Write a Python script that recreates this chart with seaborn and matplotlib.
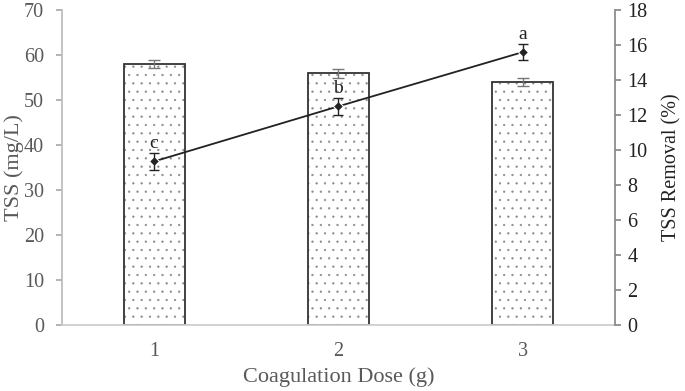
import pandas as pd
import matplotlib.pyplot as plt
import matplotlib.patches as mpatches
import seaborn as sns

# data
doses = ["1", "2", "3"]
tss = [58.1, 56.0, 54.1]
tss_err = [0.9, 1.0, 0.9]
removal = [9.35, 12.5, 15.6]
removal_err = [0.5, 0.5, 0.45]
letters = ["c", "b", "a"]

df = pd.DataFrame({"dose": doses, "tss": tss, "removal": removal})

sns.set_theme(style="white")
plt.rcParams['font.family'] = ['Liberation Serif', 'DejaVu Serif']
plt.rcParams['hatch.linewidth'] = 0.4

gray = "#595959"
fig = plt.figure(figsize=(6.85, 3.91), dpi=100)
ax = fig.add_axes([0.0905, 0.169, 0.807, 0.805])

# hatched fill (light dots), then a dark outline on top
sns.barplot(data=df, x="dose", y="tss", ax=ax, color="white", width=0.33,
            edgecolor="#8a8a8a", linewidth=0, hatch="..")
for p in list(ax.patches):
    ax.add_patch(mpatches.Rectangle(p.get_xy(), p.get_width(), p.get_height(),
                                    fill=False, edgecolor="#333333", linewidth=1.3))
ax.errorbar(range(len(doses)), tss, yerr=tss_err, fmt="none",
            ecolor="#777777", elinewidth=1, capsize=4)
ax.set_xlim(-0.5, 2.5)
ax.set_ylim(0, 70)
ax.set_yticks(range(0, 71, 10))
ax.set_xlabel("Coagulation Dose (g)", fontsize=16, color=gray)
ax.set_ylabel("TSS (mg/L)", fontsize=16, color=gray)
ax.xaxis.set_label_coords(0.5, -0.135)
ax.yaxis.set_label_coords(-0.068, 0.5)
ax.tick_params(axis="both", labelsize=14.5, colors=gray, length=4)
ax.tick_params(axis="x", length=0, pad=12)
ax.tick_params(axis="y", left=True, direction="out", color="#aaaaaa", pad=9)

ax2 = ax.twinx()
sns.lineplot(data=df, x=range(len(doses)), y="removal", ax=ax2, color="#222222",
             marker="D", markersize=5, linewidth=1.3)
ax2.errorbar(range(len(doses)), removal, yerr=removal_err, fmt="none",
             ecolor="#222222", elinewidth=1, capsize=3.5)
for i, (v, e, t) in enumerate(zip(removal, removal_err, letters)):
    ax2.text(i, v + e + 0.05, t, ha="center", va="bottom", fontsize=14, color="#222222")
ax2.set_ylim(0, 18)
ax2.set_yticks(range(0, 19, 2))
ax2.set_ylabel("TSS Removal (%)", fontsize=14.5, color="#222222")
ax2.yaxis.set_label_coords(1.086, 0.5)
ax2.tick_params(axis="y", labelsize=14.5, colors="#222222", right=True,
                direction="out", length=4, pad=5)
ax2.tick_params(axis="y", color="#888888")

for a in (ax, ax2):
    for s in a.spines.values():
        s.set_visible(False)
ax.spines["left"].set_visible(True)
ax.spines["left"].set_color("#bbbbbb")
ax.spines["bottom"].set_visible(True)
ax.spines["bottom"].set_color("#cccccc")
ax2.spines["right"].set_visible(True)
ax2.spines["right"].set_color("#888888")

fig.savefig("out.png", dpi=100)
